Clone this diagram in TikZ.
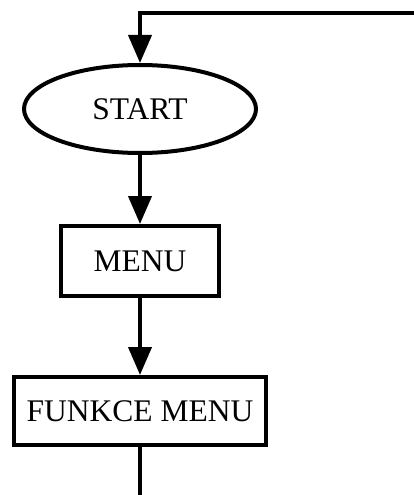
\documentclass[tikz,border=0pt]{standalone}
\usepackage{fontspec}
\setmainfont{Liberation Serif}
\usetikzlibrary{arrows.meta,shapes.geometric}
\begin{document}
\begin{tikzpicture}[x=1pt,y=-1pt,
  flow/.style={line width=4pt},
  arr/.style={flow,-{Triangle[length=28pt,width=23pt]}},
  terminal/.style={ellipse,draw,line width=4pt,minimum width=232pt,minimum height=88pt,inner sep=0pt,font=\fontsize{31.5}{36}\selectfont},
  procbox/.style={rectangle,draw,line width=4pt,inner sep=0pt,font=\fontsize{31.5}{36}\selectfont}]
\useasboundingbox (0,0) rectangle (413,495);
\node[terminal] (start) at (140,109) {START};
\node[procbox,minimum width=158pt,minimum height=70pt] (menu) at (140,261) {MENU};
\node[procbox,minimum width=252pt,minimum height=68pt] (funkce) at (140,411) {FUNKCE MENU};
\coordinate (loopR) at (416,12.7);
\coordinate (loopL) at (140,12.7);
\coordinate (down) at (140,498);
\draw[arr] (loopR) -- (loopL) -- (start.north);
\draw[arr] (start) -- (menu);
\draw[arr] (menu) -- (funkce);
\draw[flow] (funkce) -- (down);
\end{tikzpicture}
\end{document}
